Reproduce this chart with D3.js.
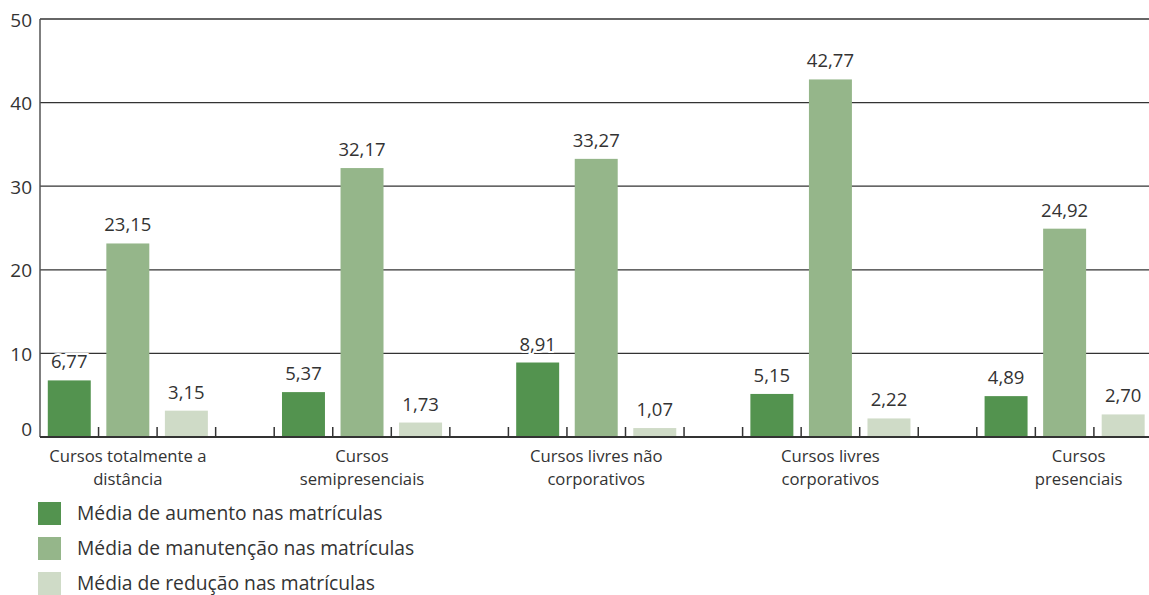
<!DOCTYPE html>
<html><head><meta charset="utf-8">
<script src="https://cdn.jsdelivr.net/npm/d3@7"></script>
<style>
html,body{margin:0;padding:0;background:#fff;}
svg{display:block;font-family:"Open Sans","Noto Sans",sans-serif;}
</style></head>
<body>
<svg id="chart" width="1149" height="595"></svg>
<script>
const categories = [
  ["Cursos totalmente a", "distância"],
  ["Cursos", "semipresenciais"],
  ["Cursos livres não", "corporativos"],
  ["Cursos livres", "corporativos"],
  ["Cursos", "presenciais"]
];
const seriesNames = [
  "Média de aumento nas matrículas",
  "Média de manutenção nas matrículas",
  "Média de redução nas matrículas"
];
const aumento    = [6.77, 5.37, 8.91, 5.15, 4.89];
const manutencao = [23.15, 32.17, 33.27, 42.77, 24.92];
const reducao    = [3.15, 1.73, 1.07, 2.22, 2.70];
const yTicks = [0, 10, 20, 30, 40, 50];
const colors = ["#53934f", "#95b68a", "#cfdbc7"];

(function () {
const seriesValues = [aumento, manutencao, reducao];
const svg = d3.select("#chart");
const mLeft = 40, slot = 58.55, mTop = 19, mBottom = 437, mRight = 1149;
const nGroups = categories.length;
const catIdx = d3.range(nGroups);

const x0 = d3.scaleBand().domain(catIdx).range([mLeft, mLeft + nGroups * 4 * slot]).padding(0);
const x1 = d3.scaleBand().domain(d3.range(3)).range([0, 3 * slot]).paddingInner(0.266).paddingOuter(0.133);
const y = d3.scaleLinear().domain([0, 50]).range([mBottom, mTop]);

const fmt = v => v.toFixed(2).replace(".", ",");

// gridlines
svg.append("g").selectAll("line").data(yTicks.filter(t => t > 0)).join("line")
  .attr("x1", mLeft).attr("x2", mRight)
  .attr("y1", d => y(d)).attr("y2", d => y(d))
  .attr("stroke", "#333").attr("stroke-width", 1.3);

// y axis line
svg.append("line").attr("x1", mLeft).attr("x2", mLeft).attr("y1", y(50)).attr("y2", y(0))
  .attr("stroke", "#555").attr("stroke-width", 1.5);

// y tick labels
svg.append("g").selectAll("text").data(yTicks).join("text")
  .attr("x", 32).attr("y", d => y(d)).attr("dy", d => d === 0 ? "-0.05em" : "0.4em")
  .attr("text-anchor", "end").attr("font-size", 19).attr("fill", "#333")
  .text(d => d);

// bars
const groups = svg.append("g").selectAll("g").data(catIdx).join("g")
  .attr("transform", i => `translate(${x0(i)},0)`);
groups.selectAll("rect").data(i => seriesValues.map((s, k) => ({k, v: s[i]}))).join("rect")
  .attr("x", d => x1(d.k)).attr("width", x1.bandwidth())
  .attr("y", d => y(d.v)).attr("height", d => y(0) - y(d.v))
  .attr("fill", d => colors[d.k]);

// value labels
groups.selectAll("text.val").data(i => seriesValues.map((s, k) => ({k, v: s[i]}))).join("text")
  .attr("class", "val")
  .attr("x", d => x1(d.k) + x1.bandwidth() / 2).attr("y", d => y(d.v) - 12)
  .attr("text-anchor", "middle").attr("font-size", 18.5).attr("fill", "#333")
  .attr("stroke", "#fff").attr("stroke-width", 4).attr("paint-order", "stroke")
  .text(d => fmt(d.v));

// baseline
svg.append("line").attr("x1", mLeft).attr("x2", mRight).attr("y1", y(0)).attr("y2", y(0))
  .attr("stroke", "#333").attr("stroke-width", 2);

// x ticks (upward) at every slot boundary
const tickXs = [];
catIdx.forEach(i => { for (let k = 1; k <= 4; k++) tickXs.push(x0(i) + k * x1.step()); });
svg.append("g").selectAll("line").data(tickXs.filter(t => t < mRight)).join("line")
  .attr("x1", d => d).attr("x2", d => d).attr("y1", y(0) - 10).attr("y2", y(0))
  .attr("stroke", "#333").attr("stroke-width", 1.5);

// category labels (one text per line)
const labelOffset = i => i === nGroups - 1 ? 14 : 0;
const lines = [];
catIdx.forEach(i => categories[i].forEach((t, j) => lines.push({i, j, t})));
svg.append("g").selectAll("text").data(lines).join("text")
  .attr("text-anchor", "middle").attr("font-size", 16.7).attr("fill", "#333")
  .attr("x", d => x0(d.i) + x1(1) + x1.bandwidth() / 2 + labelOffset(d.i))
  .attr("y", d => 462 + d.j * 23)
  .text(d => d.t);

// legend
const lg = svg.append("g").selectAll("g").data(seriesNames).join("g")
  .attr("transform", (d, k) => `translate(38,${502 + k * 35})`);
lg.append("rect").attr("width", 23).attr("height", 23).attr("fill", (d, k) => colors[k]);
lg.append("text").attr("x", 39).attr("y", 11.5).attr("dy", "0.36em")
  .attr("font-size", 19.3).attr("fill", "#333").text(d => d);
})();
</script>
</body></html>
